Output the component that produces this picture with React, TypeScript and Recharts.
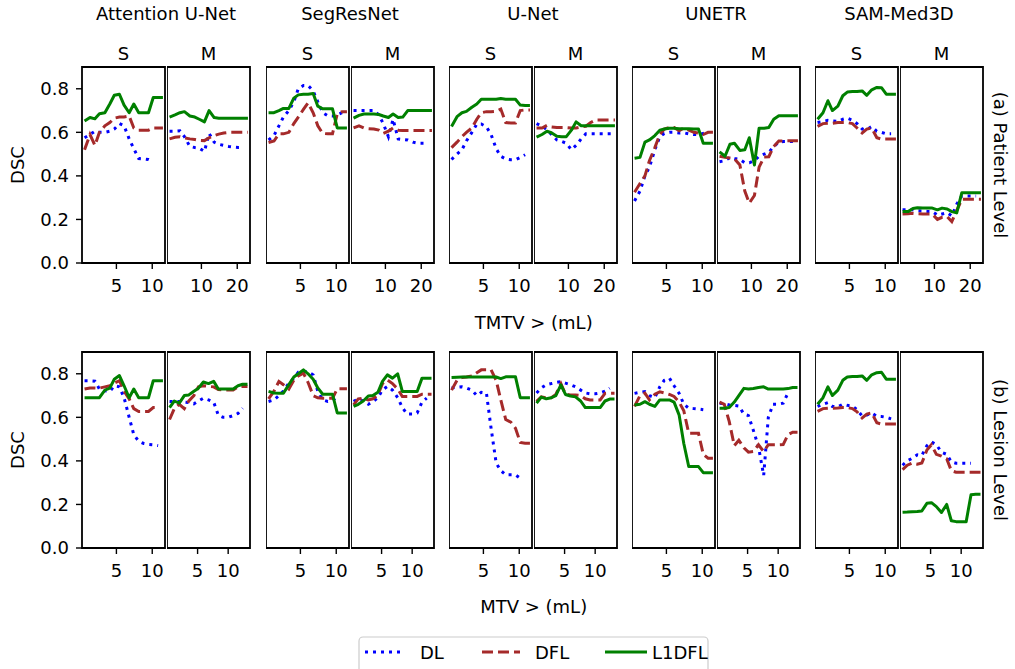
import React from 'react';
import { LineChart, Line, XAxis, YAxis, ReferenceArea } from 'recharts';

// volume thresholds (log axis)
const XS = [2.7, 3, 3.3, 3.6, 4, 4.4, 4.8, 5.3, 5.8, 6.4, 7, 7.7, 8.5, 9.3, 10.2, 11.2, 12.3];
const XM_PATIENT = [5.4, 6, 6.6, 7.2, 8, 8.8, 9.6, 10.6, 11.6, 12.8, 14, 15.4, 17, 18.6, 20.4, 22.4, 24.6];
const XM_LESION = [2.65, 2.95, 3.3, 3.7, 4.1, 4.6, 5.1, 5.7, 6.4, 7.2, 8, 8.9, 10, 11.2, 12.5, 13.9, 15.5];

const MODELS = ['Attention U-Net', 'SegResNet', 'U-Net', 'UNETR', 'SAM-Med3D'];
const Y_TICKS = [0, 0.2, 0.4, 0.6, 0.8];

// (a) patient level
const P_ATT_S_DL = [0.575, 0.59, 0.605, 0.6, 0.6, 0.605, 0.615, 0.64, 0.63, 0.57, 0.525, 0.48, 0.478, 0.475, 0.466, null, null];
const P_ATT_S_DFL = [0.52, 0.59, 0.54, 0.6, 0.63, 0.645, 0.665, 0.67, 0.67, 0.675, 0.62, 0.61, 0.61, 0.61, 0.62, 0.62, 0.62];
const P_ATT_S_L1 = [0.652, 0.668, 0.662, 0.685, 0.69, 0.73, 0.77, 0.775, 0.725, 0.69, 0.73, 0.69, 0.69, 0.69, 0.76, 0.76, 0.76];
const P_ATT_M_DL = [0.605, 0.605, 0.607, 0.58, 0.535, 0.53, 0.527, 0.512, 0.595, 0.555, 0.545, 0.54, 0.535, 0.532, 0.53, 0.53, null];
const P_ATT_M_DFL = [0.57, 0.577, 0.58, 0.575, 0.57, 0.567, 0.563, 0.562, 0.575, 0.585, 0.592, 0.597, 0.6, 0.6, 0.6, 0.6, 0.6];
const P_ATT_M_L1 = [0.67, 0.68, 0.69, 0.695, 0.675, 0.67, 0.66, 0.648, 0.7, 0.668, 0.665, 0.665, 0.665, 0.665, 0.665, 0.665, 0.665];

const P_SEG_S_DL = [0.565, 0.585, 0.63, 0.67, 0.7, 0.74, 0.8, 0.815, 0.815, 0.79, 0.74, 0.69, 0.676, 0.675, 0.68, 0.69, null];
const P_SEG_S_DFL = [0.553, 0.56, 0.593, 0.593, 0.6, 0.64, 0.67, 0.705, 0.735, 0.69, 0.63, 0.595, 0.593, 0.593, 0.685, 0.695, 0.695];
const P_SEG_S_L1 = [0.69, 0.69, 0.7, 0.71, 0.71, 0.757, 0.772, 0.775, 0.775, 0.778, 0.72, 0.708, 0.708, 0.708, 0.62, 0.62, 0.62];
const P_SEG_M_DL = [0.7, 0.7, 0.7, 0.7, 0.7, 0.68, 0.64, 0.58, 0.66, 0.57, 0.567, 0.565, 0.555, 0.55, 0.55, 0.55, null];
const P_SEG_M_DFL = [0.62, 0.63, 0.62, 0.617, 0.615, 0.61, 0.595, 0.605, 0.62, 0.61, 0.608, 0.608, 0.608, 0.608, 0.608, 0.608, 0.608];
const P_SEG_M_L1 = [0.665, 0.678, 0.684, 0.684, 0.684, 0.682, 0.675, 0.668, 0.684, 0.668, 0.67, 0.7, 0.7, 0.7, 0.7, 0.7, 0.7];

const P_UNET_S_DL = [0.475, 0.5, 0.52, 0.56, 0.6, 0.638, 0.638, 0.625, 0.59, 0.525, 0.49, 0.478, 0.474, 0.474, 0.485, 0.497, null];
const P_UNET_S_DFL = [0.53, 0.555, 0.58, 0.6, 0.62, 0.66, 0.69, 0.695, 0.695, 0.697, 0.707, 0.645, 0.643, 0.643, 0.7, 0.703, 0.703];
const P_UNET_S_L1 = [0.627, 0.672, 0.69, 0.696, 0.715, 0.73, 0.752, 0.752, 0.752, 0.752, 0.755, 0.752, 0.752, 0.752, 0.725, 0.723, 0.723];
const P_UNET_M_DL = [0.64, 0.628, 0.612, 0.59, 0.565, 0.558, 0.55, 0.52, 0.54, 0.57, 0.593, 0.593, 0.593, 0.593, 0.593, 0.593, 0.593];
const P_UNET_M_DFL = [0.62, 0.62, 0.632, 0.625, 0.622, 0.622, 0.622, 0.62, 0.62, 0.625, 0.628, 0.645, 0.657, 0.657, 0.657, 0.657, 0.657];
const P_UNET_M_L1 = [0.578, 0.59, 0.605, 0.598, 0.582, 0.58, 0.58, 0.61, 0.648, 0.63, 0.63, 0.63, 0.63, 0.63, 0.63, 0.63, 0.63];

const P_UNETR_S_DL = [0.285, 0.33, 0.4, 0.44, 0.52, 0.58, 0.595, 0.6, 0.6, 0.597, 0.598, 0.593, 0.59, 0.59, 0.595, 0.6, null];
const P_UNETR_S_DFL = [0.325, 0.365, 0.4, 0.47, 0.53, 0.59, 0.615, 0.622, 0.622, 0.607, 0.62, 0.61, 0.6, 0.597, 0.59, 0.6, 0.6];
const P_UNETR_S_L1 = [0.481, 0.485, 0.555, 0.565, 0.585, 0.61, 0.615, 0.619, 0.619, 0.617, 0.617, 0.616, 0.615, 0.615, 0.55, 0.55, 0.55];
const P_UNETR_M_DL = [0.465, 0.47, 0.485, 0.48, 0.475, 0.46, 0.46, 0.47, 0.49, 0.5, 0.508, 0.535, 0.555, 0.558, 0.558, 0.558, null];
const P_UNETR_M_DFL = [0.49, 0.485, 0.482, 0.478, 0.45, 0.33, 0.275, 0.31, 0.44, 0.487, 0.488, 0.535, 0.56, 0.561, 0.561, 0.561, 0.561];
const P_UNETR_M_L1 = [0.51, 0.49, 0.545, 0.55, 0.517, 0.52, 0.575, 0.45, 0.619, 0.619, 0.622, 0.66, 0.676, 0.676, 0.676, 0.676, 0.676];

const P_SAM_S_DL = [0.645, 0.65, 0.655, 0.652, 0.65, 0.66, 0.665, 0.655, 0.64, 0.615, 0.613, 0.627, 0.605, 0.6, 0.593, 0.593, null];
const P_SAM_S_DFL = [0.627, 0.64, 0.642, 0.642, 0.645, 0.645, 0.645, 0.64, 0.62, 0.597, 0.615, 0.62, 0.575, 0.569, 0.569, 0.569, 0.569];
const P_SAM_S_L1 = [0.66, 0.69, 0.745, 0.7, 0.72, 0.768, 0.785, 0.787, 0.787, 0.79, 0.77, 0.795, 0.806, 0.805, 0.775, 0.775, 0.775];
const P_SAM_M_DL = [0.244, 0.244, 0.244, 0.24, 0.239, 0.237, 0.236, 0.22, 0.225, 0.231, 0.216, 0.27, 0.308, 0.308, 0.308, 0.308, null];
const P_SAM_M_DFL = [0.225, 0.226, 0.228, 0.226, 0.225, 0.225, 0.225, 0.2, 0.21, 0.213, 0.19, 0.24, 0.293, 0.293, 0.293, 0.293, 0.293];
const P_SAM_M_L1 = [0.236, 0.236, 0.25, 0.254, 0.252, 0.252, 0.252, 0.244, 0.252, 0.248, 0.236, 0.23, 0.323, 0.323, 0.323, 0.323, 0.323];

// (b) lesion level
const L_ATT_S_DL = [0.768, 0.768, 0.766, 0.73, 0.722, 0.719, 0.745, 0.74, 0.69, 0.6, 0.52, 0.49, 0.48, 0.476, 0.474, 0.47, null];
const L_ATT_S_DFL = [0.73, 0.735, 0.735, 0.734, 0.74, 0.745, 0.757, 0.768, 0.72, 0.685, 0.64, 0.627, 0.627, 0.627, 0.645, 0.645, null];
const L_ATT_S_L1 = [0.69, 0.69, 0.69, 0.69, 0.725, 0.734, 0.775, 0.792, 0.745, 0.69, 0.73, 0.69, 0.69, 0.69, 0.768, 0.768, 0.768];
const L_ATT_M_DL = [0.673, 0.672, 0.673, 0.67, 0.668, 0.662, 0.675, 0.688, 0.68, 0.67, 0.61, 0.6, 0.6, 0.608, 0.618, 0.642, null];
const L_ATT_M_DFL = [0.59, 0.64, 0.66, 0.64, 0.675, 0.7, 0.74, 0.745, 0.742, 0.74, 0.728, 0.726, 0.726, 0.726, 0.74, 0.742, 0.742];
const L_ATT_M_L1 = [0.645, 0.675, 0.665, 0.7, 0.703, 0.72, 0.734, 0.762, 0.755, 0.765, 0.73, 0.73, 0.73, 0.73, 0.745, 0.752, 0.752];

const L_SEG_S_DL = [0.673, 0.68, 0.7, 0.72, 0.757, 0.78, 0.807, 0.81, 0.81, 0.795, 0.72, 0.68, 0.673, 0.676, 0.696, null, null];
const L_SEG_S_DFL = [0.685, 0.72, 0.765, 0.75, 0.73, 0.77, 0.79, 0.803, 0.76, 0.7, 0.69, 0.688, 0.688, 0.688, 0.731, 0.731, 0.731];
const L_SEG_S_L1 = [0.719, 0.712, 0.711, 0.711, 0.75, 0.785, 0.8, 0.818, 0.8, 0.775, 0.735, 0.706, 0.706, 0.706, 0.62, 0.62, 0.62];
const L_SEG_M_DL = [0.673, 0.685, 0.675, 0.66, 0.672, 0.69, 0.726, 0.742, 0.725, 0.69, 0.645, 0.615, 0.615, 0.62, 0.67, 0.688, null];
const L_SEG_M_DFL = [0.657, 0.685, 0.688, 0.68, 0.685, 0.703, 0.755, 0.772, 0.755, 0.73, 0.696, 0.696, 0.696, 0.696, 0.706, 0.706, 0.706];
const L_SEG_M_L1 = [0.65, 0.66, 0.675, 0.698, 0.7, 0.715, 0.765, 0.795, 0.78, 0.8, 0.719, 0.719, 0.719, 0.719, 0.78, 0.78, 0.78];

const L_UNET_S_DL = [0.735, 0.738, 0.74, 0.735, 0.725, 0.7, 0.715, 0.712, 0.55, 0.39, 0.355, 0.336, 0.336, 0.336, 0.32, null, null];
const L_UNET_S_DFL = [0.725, 0.77, 0.783, 0.785, 0.79, 0.805, 0.818, 0.818, 0.818, 0.77, 0.68, 0.59, 0.578, 0.55, 0.485, 0.481, 0.481];
const L_UNET_S_L1 = [0.783, 0.784, 0.785, 0.785, 0.785, 0.785, 0.785, 0.785, 0.785, 0.785, 0.778, 0.786, 0.786, 0.786, 0.69, 0.69, 0.69];
const L_UNET_M_DL = [0.712, 0.735, 0.75, 0.755, 0.76, 0.764, 0.757, 0.75, 0.74, 0.725, 0.712, 0.708, 0.708, 0.712, 0.72, 0.734, null];
const L_UNET_M_DFL = [0.673, 0.694, 0.69, 0.69, 0.705, 0.755, 0.706, 0.703, 0.703, 0.7, 0.685, 0.68, 0.68, 0.68, 0.71, 0.711, 0.711];
const L_UNET_M_L1 = [0.665, 0.693, 0.685, 0.69, 0.7, 0.749, 0.705, 0.698, 0.694, 0.675, 0.645, 0.645, 0.645, 0.645, 0.675, 0.684, 0.684];

const L_UNETR_S_DL = [0.71, 0.715, 0.718, 0.7, 0.69, 0.74, 0.77, 0.78, 0.745, 0.71, 0.66, 0.642, 0.64, 0.638, 0.635, null, null];
const L_UNETR_S_DFL = [0.65, 0.7, 0.711, 0.68, 0.706, 0.717, 0.712, 0.705, 0.696, 0.67, 0.63, 0.527, 0.527, 0.527, 0.43, 0.412, 0.412];
const L_UNETR_S_L1 = [0.657, 0.66, 0.672, 0.66, 0.65, 0.68, 0.68, 0.68, 0.67, 0.61, 0.48, 0.374, 0.374, 0.374, 0.346, 0.346, 0.346];
const L_UNETR_M_DL = [0.665, 0.663, 0.657, 0.655, 0.652, 0.615, 0.608, 0.54, 0.465, 0.333, 0.6, 0.66, 0.66, 0.665, 0.712, null, null];
const L_UNETR_M_DFL = [0.67, 0.66, 0.58, 0.47, 0.495, 0.46, 0.44, 0.443, 0.474, 0.443, 0.474, 0.474, 0.474, 0.475, 0.52, 0.532, 0.532];
const L_UNETR_M_L1 = [0.642, 0.642, 0.645, 0.67, 0.7, 0.733, 0.73, 0.732, 0.737, 0.74, 0.73, 0.73, 0.73, 0.73, 0.732, 0.737, 0.737];

const L_SAM_S_DL = [0.65, 0.66, 0.668, 0.65, 0.648, 0.66, 0.655, 0.652, 0.635, 0.606, 0.61, 0.62, 0.605, 0.604, 0.6, 0.593, null];
const L_SAM_S_DFL = [0.627, 0.64, 0.642, 0.642, 0.643, 0.645, 0.645, 0.64, 0.625, 0.597, 0.615, 0.62, 0.575, 0.569, 0.569, 0.569, 0.569];
const L_SAM_S_L1 = [0.66, 0.69, 0.74, 0.7, 0.725, 0.77, 0.785, 0.787, 0.787, 0.79, 0.77, 0.795, 0.805, 0.807, 0.775, 0.775, 0.775];
const L_SAM_M_DL = [0.38, 0.4, 0.412, 0.428, 0.425, 0.47, 0.487, 0.474, 0.44, 0.43, 0.395, 0.389, 0.389, 0.389, 0.389, null, null];
const L_SAM_M_DFL = [0.36, 0.38, 0.39, 0.385, 0.39, 0.45, 0.474, 0.43, 0.422, 0.41, 0.355, 0.348, 0.348, 0.348, 0.348, 0.348, 0.348];
const L_SAM_M_L1 = [0.164, 0.165, 0.167, 0.168, 0.17, 0.205, 0.208, 0.19, 0.163, 0.2, 0.125, 0.121, 0.121, 0.121, 0.245, 0.247, 0.247];

const PATIENT = [
  [[P_ATT_S_DL, P_ATT_S_DFL, P_ATT_S_L1], [P_ATT_M_DL, P_ATT_M_DFL, P_ATT_M_L1]],
  [[P_SEG_S_DL, P_SEG_S_DFL, P_SEG_S_L1], [P_SEG_M_DL, P_SEG_M_DFL, P_SEG_M_L1]],
  [[P_UNET_S_DL, P_UNET_S_DFL, P_UNET_S_L1], [P_UNET_M_DL, P_UNET_M_DFL, P_UNET_M_L1]],
  [[P_UNETR_S_DL, P_UNETR_S_DFL, P_UNETR_S_L1], [P_UNETR_M_DL, P_UNETR_M_DFL, P_UNETR_M_L1]],
  [[P_SAM_S_DL, P_SAM_S_DFL, P_SAM_S_L1], [P_SAM_M_DL, P_SAM_M_DFL, P_SAM_M_L1]],
];
const LESION = [
  [[L_ATT_S_DL, L_ATT_S_DFL, L_ATT_S_L1], [L_ATT_M_DL, L_ATT_M_DFL, L_ATT_M_L1]],
  [[L_SEG_S_DL, L_SEG_S_DFL, L_SEG_S_L1], [L_SEG_M_DL, L_SEG_M_DFL, L_SEG_M_L1]],
  [[L_UNET_S_DL, L_UNET_S_DFL, L_UNET_S_L1], [L_UNET_M_DL, L_UNET_M_DFL, L_UNET_M_L1]],
  [[L_UNETR_S_DL, L_UNETR_S_DFL, L_UNETR_S_L1], [L_UNETR_M_DL, L_UNETR_M_DFL, L_UNETR_M_L1]],
  [[L_SAM_S_DL, L_SAM_S_DFL, L_SAM_S_L1], [L_SAM_M_DL, L_SAM_M_DFL, L_SAM_M_L1]],
];

const FONT = 'DejaVu Sans, sans-serif';
const FS = 18;
const COL_LEFT = [82, 266, 449, 632, 815];
const M_OFF = 85;
const W = 83;
const H = 196;
const ROW_TOP = [67, 352];
const Y_W = 50;
const PAD = 3;

const BLUE = '#0000ff';
const BROWN = '#a52a2a';
const GREEN = '#008000';

type PanelProps = {
  left: number;
  top: number;
  xs: number[];
  domain: [number, number];
  ticks: number[];
  series: (number | null)[][];
  showY: boolean;
};

function Panel({ left, top, xs, domain, ticks, series, showY }: PanelProps) {
  const data = xs.map((x, i) => ({ x, DL: series[0][i], DFL: series[1][i], L1DFL: series[2][i] }));
  const yw = showY ? Y_W : 0;
  return (
    <div style={{ position: 'absolute', left: left - yw, top: top - PAD }}>
      <LineChart width={W + yw + PAD} height={H + PAD + 40} data={data}
        margin={{ top: PAD, right: PAD, left: 0, bottom: 0 }}>
        <XAxis dataKey="x" type="number" scale="log" domain={domain} ticks={ticks} allowDataOverflow
          height={40} tickSize={6} tickMargin={10} axisLine={false} interval={0}
          tick={{ fill: '#000', fontSize: FS, fontFamily: FONT }} tickLine={{ stroke: '#000', strokeWidth: 1.4 }} />
        <YAxis type="number" domain={[0, 0.9]} ticks={Y_TICKS} allowDataOverflow hide={!showY} width={yw}
          tickSize={6} tickMargin={7} axisLine={false} interval={0} tickFormatter={(v: number) => v.toFixed(1)}
          tick={{ fill: '#000', fontSize: FS, fontFamily: FONT }} tickLine={{ stroke: '#000', strokeWidth: 1.4 }} />
        <ReferenceArea x1={domain[0]} x2={domain[1]} y1={0} y2={0.9} fill="none" fillOpacity={0}
          stroke="#000" strokeWidth={1.8} strokeOpacity={1} ifOverflow="visible" />
        <Line dataKey="DL" stroke={BLUE} strokeWidth={3} strokeDasharray="3 5" dot={false} activeDot={false}
          isAnimationActive={false} strokeLinecap="butt" />
        <Line dataKey="DFL" stroke={BROWN} strokeWidth={3} strokeDasharray="11 5" dot={false} activeDot={false}
          isAnimationActive={false} strokeLinecap="butt" />
        <Line dataKey="L1DFL" stroke={GREEN} strokeWidth={3} dot={false} activeDot={false}
          isAnimationActive={false} strokeLinejoin="round" />
      </LineChart>
    </div>
  );
}

function Row({ rowIdx, groups, mXs, mDomain, mTicks }: {
  rowIdx: number; groups: (number | null)[][][][]; mXs: number[]; mDomain: [number, number]; mTicks: number[];
}) {
  const top = ROW_TOP[rowIdx];
  return (
    <>
      {groups.map((g, i) => (
        <React.Fragment key={i}>
          <Panel left={COL_LEFT[i]} top={top} xs={XS} domain={[2.57, 12.8]} ticks={[5, 10]} series={g[0]} showY={i === 0} />
          <Panel left={COL_LEFT[i] + M_OFF} top={top} xs={mXs} domain={mDomain} ticks={mTicks} series={g[1]} showY={false} />
        </React.Fragment>
      ))}
    </>
  );
}

export default function App() {
  const rowMid = ROW_TOP.map((t) => t + H / 2);
  return (
    <div style={{ position: 'relative', width: 1015, height: 669, background: '#fff', fontFamily: FONT, overflow: 'hidden' }}>
      <style>{'body{margin:0}'}</style>
      <svg width={1015} height={669} style={{ position: 'absolute', left: 0, top: 0 }} fontFamily={FONT} fontSize={FS}>
        {MODELS.map((m, i) => (
          <g key={m}>
            <text x={COL_LEFT[i] + (W + M_OFF) / 2} y={20} textAnchor="middle">{m}</text>
            <text x={COL_LEFT[i] + W / 2} y={60} textAnchor="middle">S</text>
            <text x={COL_LEFT[i] + M_OFF + W / 2} y={60} textAnchor="middle">M</text>
          </g>
        ))}
        {rowMid.map((y, i) => (
          <g key={i}>
            <text transform={`translate(17.5, ${y}) rotate(-90)`} textAnchor="middle" dominantBaseline="central">DSC</text>
            <text transform={`translate(1000.5, ${y}) rotate(90)`} textAnchor="middle" dominantBaseline="central">
              {i === 0 ? '(a) Patient Level' : '(b) Lesion Level'}
            </text>
          </g>
        ))}
        <text x={533.7} y={329} textAnchor="middle">TMTV &gt; (mL)</text>
        <text x={533.7} y={612.5} textAnchor="middle">MTV &gt; (mL)</text>
        <rect x={359} y={637} width={349} height={42} rx={4} fill="#fff" stroke="#cccccc" strokeWidth={1.2} />
        <line x1={365} x2={405} y1={652} y2={652} stroke={BLUE} strokeWidth={3} strokeDasharray="3 5" />
        <text x={420} y={658.5}>DL</text>
        <line x1={482} x2={520} y1={652} y2={652} stroke={BROWN} strokeWidth={3} strokeDasharray="11 5" />
        <text x={535} y={658.5}>DFL</text>
        <line x1={605} x2={647} y1={652} y2={652} stroke={GREEN} strokeWidth={3} />
        <text x={652} y={658.5}>L1DFL</text>
      </svg>
      <Row rowIdx={0} groups={PATIENT} mXs={XM_PATIENT} mDomain={[5.14, 25.6]} mTicks={[10, 20]} />
      <Row rowIdx={1} groups={LESION} mXs={XM_LESION} mDomain={[2.5, 16.4]} mTicks={[5, 10]} />
    </div>
  );
}
